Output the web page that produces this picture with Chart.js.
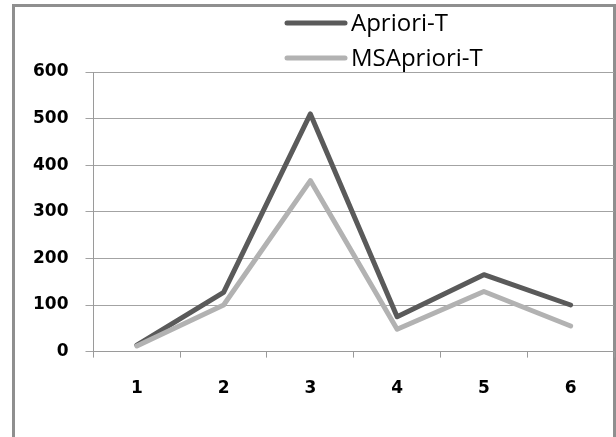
<!DOCTYPE html>
<html>
<head>
<meta charset="utf-8">
<script src="https://cdn.jsdelivr.net/npm/chart.js@4.4.1/dist/chart.umd.min.js"></script>
<style>
    html, body { margin: 0; padding: 0; background: #fff; }
    #moldura {
        position: absolute; left: 12px; top: 4px;
        width: 604px; height: 460px;
        border: 3px solid #8f8f8f; border-bottom: none;
        box-sizing: border-box;
    }
    #caixa { position: absolute; left: 0; top: 0; width: 616px; height: 437px; }
</style>
</head>
<body>
<div id="moldura"></div>
<div id="caixa"><canvas id="myChart"></canvas></div>
<script>
// dados
const categorias = ['1', '2', '3', '4', '5', '6'];
const aprioriT = [14, 127, 510, 75, 165, 100];
const msAprioriT = [12, 100, 367, 48, 129, 55];
const ticksY = [0, 100, 200, 300, 400, 500, 600];

// legenda vertical desenhada a mao, acima do grafico
const legendaVertical = {
    id: 'legendaVertical',
    afterDraw(chart, args, opts) {
        const ctx = chart.ctx;
        ctx.save();
        ctx.font = opts.font;
        ctx.textBaseline = 'middle';
        ctx.textAlign = 'left';
        chart.data.datasets.forEach((ds, i) => {
            const y = opts.y + i * opts.espaco;
            ctx.strokeStyle = ds.borderColor;
            ctx.lineWidth = ds.borderWidth;
            ctx.lineCap = 'round';
            ctx.beginPath();
            ctx.moveTo(opts.x, y);
            ctx.lineTo(opts.x + opts.largura, y);
            ctx.stroke();
            ctx.fillStyle = '#000';
            ctx.fillText(ds.label, opts.x + opts.largura + 6, y + 1);
        });
        ctx.restore();
    }
};

function criarGrafico() {
    const ctx = document.getElementById('myChart');
    new Chart(ctx, {
        type: 'line',
        data: {
            labels: categorias,
            datasets: [{
                label: 'Apriori-T',
                data: aprioriT,
                borderColor: '#5a5a5a',
                borderWidth: 5,
                pointRadius: 0,
                tension: 0,
                borderCapStyle: 'round',
                borderJoinStyle: 'round',
                order: 1
            }, {
                label: 'MSApriori-T',
                data: msAprioriT,
                borderColor: '#b2b2b2',
                borderWidth: 5,
                pointRadius: 0,
                tension: 0,
                borderCapStyle: 'round',
                borderJoinStyle: 'round',
                order: 0
            }]
        },
        options: {
            responsive: false,
            animation: false,
            layout: {
                padding: { left: 16, right: 2, top: 72, bottom: 17 }
            },
            plugins: {
                legend: { display: false },
                tooltip: { enabled: false },
                legendaVertical: { x: 287, y: 23, espaco: 35, largura: 58, font: '24px "Open Sans"' }
            },
            scales: {
                x: {
                    offset: true,
                    grid: {
                        offset: true,
                        drawOnChartArea: false,
                        drawTicks: true,
                        tickLength: 6,
                        color: '#9a9a9a'
                    },
                    border: { display: true, color: '#9a9a9a' },
                    ticks: {
                        padding: 21,
                        color: '#000',
                        font: { family: 'DejaVu Sans', size: 17, weight: 'bold' }
                    }
                },
                y: {
                    min: 0,
                    max: 600,
                    afterBuildTicks: (eixo) => { eixo.ticks = ticksY.map(v => ({ value: v })); },
                    grid: {
                        color: '#a3a3a3',
                        tickLength: 8
                    },
                    border: { display: true, color: '#9a9a9a' },
                    ticks: {
                        padding: 17,
                        color: '#000',
                        font: { family: 'DejaVu Sans', size: 17, weight: 'bold' }
                    }
                }
            }
        },
        plugins: [legendaVertical]
    });
}
document.getElementById('myChart').width = 616;
document.getElementById('myChart').height = 437;
criarGrafico();
</script>
</body>
</html>
